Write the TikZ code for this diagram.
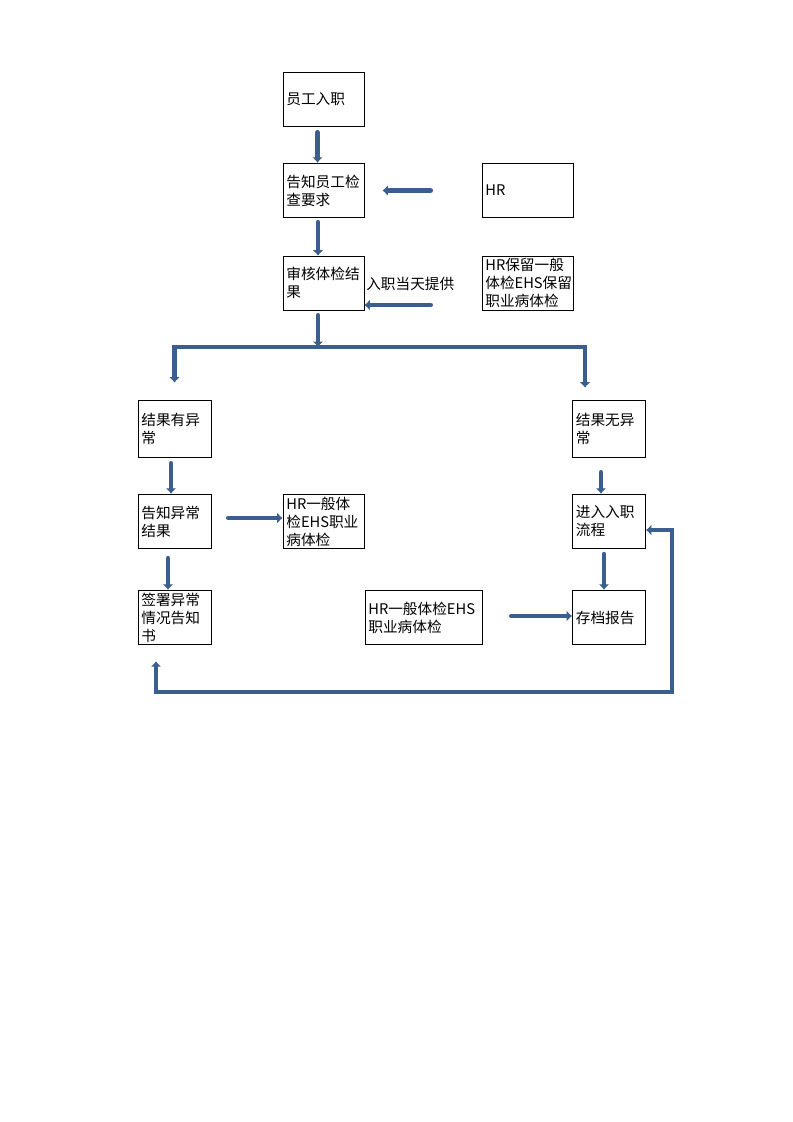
\documentclass[tikz,border=0pt]{standalone}
\usepackage{fontspec}
\setmainfont{Noto Sans CJK SC}
\usetikzlibrary{calc,arrows.meta}
\definecolor{flowblue}{RGB}{58,95,142}
\tikzset{
  every node/.style={font=\fontsize{11pt}{13.5pt}\selectfont},
  box/.style={draw=black, line width=0.65pt, rectangle, align=left, inner xsep=2.5pt, inner ysep=0pt},
  w81/.style={minimum width=60.75pt, text width=55.75pt},
  w91/.style={minimum width=68.25pt, text width=63.25pt},
  w73/.style={minimum width=54.75pt, text width=49.75pt},
  w117/.style={minimum width=87.75pt, text width=82.75pt},
  h55/.style={minimum height=41pt},
  tip/.tip={Latex[length=4pt,width=8pt]},
  flow/.style={draw=flowblue, line width=3.7pt, line cap=round, -tip},
  flowplain/.style={draw=flowblue, line width=3.7pt, line cap=round}
}
\begin{document}
\begin{tikzpicture}[x=0.75pt,y=-0.75pt]
\useasboundingbox[fill=white] (0,0) rectangle (793,1122);
% boxes
\node[box,w81,minimum height=40.5pt] (a1) at (323.5,99) {员工入职};
\node[box,w81,h55] (a2) at (323.5,190.5) {告知员工检\\查要求};
\node[box,w91,h55] (hr) at (527.5,190.5) {HR};
\node[box,w81,minimum height=40.5pt] (a4) at (323.5,283) {审核体检结\\果};
\node[box,w91,minimum height=40.5pt] (hr2) at (527.5,283) {HR保留一般\\体检EHS保留\\职业病体检};
\node[box,w73,minimum height=42.75pt] (l1) at (174.5,428.5) {结果有异\\常};
\node[box,w73,h55] (l2) at (174.5,521.5) {告知异常\\结果};
\node[box,w81,h55] (hrm) at (323.5,521.5) {HR一般体\\检EHS职业\\病体检};
\node[box,w73,h55] (l3) at (174.5,617.5) {签署异常\\情况告知\\书};
\node[box,w117,h55] (hrw) at (423.5,617.5) {HR一般体检EHS\\职业病体检};
\node[box,w73,minimum height=42.75pt] (r1) at (609,428.5) {结果无异\\常};
\node[box,w73,h55] (r2) at (609,521.5) {进入入职\\流程};
\node[box,w73,h55] (r3) at (609,617.5) {存档报告};
\node[anchor=west,inner sep=0pt] (lbl) at (366,284) {入职当天提供};
% connectors
\draw[flow] ($(a1.south)+(-6,6)$) -- ($(a2.north)+(-6,0)$);
\draw[flow] ($(a2.south)+(-5.5,4)$) -- ($(a4.north)+(-5.5,0)$);
\draw[flow] ($(hr.west)+(-51,0)$) -- ($(a2.east)+(18,0)$);
\draw[flow] ($(hr2.west)+(-51,22)$) -- ($(a4.east)+(0,22)$);
\coordinate (br) at (318,347);
\draw[flow] ($(a4.south)+(-5.5,5)$) -- (br);
\draw[flow,line join=miter] (br) -| ($(l1.north)+(0,-17)$);
\draw[flow,line join=miter] (br) -| ($(r1.north)+(-24,-12)$);
\draw[flow] ($(l1.south)+(-3.5,6)$) -- ($(l2.north)+(-3.5,0)$);
\draw[flow] ($(l2.east)+(17,-3.5)$) -- ($(hrm.west)+(0,-3.5)$);
\draw[flow] ($(l2.south)+(-6.5,9)$) -- ($(l3.north)+(-6.5,0)$);
\draw[flow] ($(r1.south)+(-8,15)$) -- ($(r2.north)+(-8,0)$);
\draw[flow] ($(r2.south)+(-5,5)$) -- ($(r3.north)+(-5,0)$);
\draw[flow] ($(hrw.east)+(29,-1.5)$) -- ($(r3.west)+(0,-1.5)$);
\coordinate (lp) at (672,692);
\draw[flow,tip-tip,line join=miter,line cap=butt] ($(l3.south)+(-18.5,16)$) |- (lp) |- ($(r2.east)+(0,8.5)$);
\end{tikzpicture}
\end{document}
